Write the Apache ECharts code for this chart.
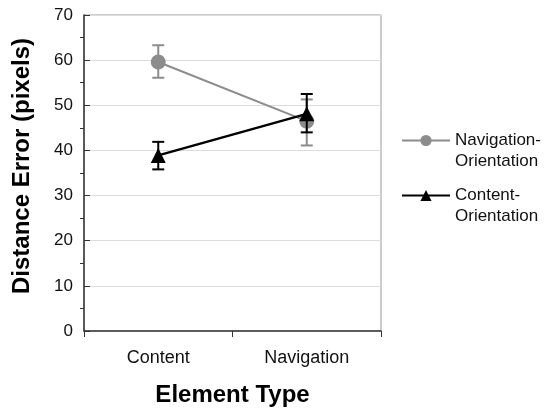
<!DOCTYPE html>
<html>
<head>
<meta charset="utf-8">
<script src="https://cdn.jsdelivr.net/npm/echarts@6/dist/echarts.min.js"></script>
<style>html,body{margin:0;padding:0;background:#fff}#c{width:546px;height:413px}</style>
</head>
<body>
<div id="c"></div>
<script>
var categories = ['Content', 'Navigation'];
var navOrientMean = [59.6, 46.5];
var navOrientLow = [56.1, 41.1];
var navOrientHigh = [63.3, 51.3];
var contOrientMean = [38.9, 48.1];
var contOrientLow = [35.8, 44.0];
var contOrientHigh = [41.9, 52.5];
var yTicks = [0, 10, 20, 30, 40, 50, 60, 70];

var FONT = '"Liberation Sans", Arial, sans-serif';
var GRAY = '#8c8c8c';
var BLACK = '#000000';

function errData(lo, hi) {
  return categories.map(function (c, i) { return [i, lo[i], hi[i]]; });
}
function errSeries(lo, hi, color, z) {
  return {
    type: 'custom',
    z: z,
    silent: true,
    data: errData(lo, hi),
    encode: { x: 0, y: [1, 2] },
    renderItem: function (params, api) {
      var x = api.value(0);
      var a = api.coord([x, api.value(1)]);
      var b = api.coord([x, api.value(2)]);
      var hw = 6;
      var st = { stroke: color, lineWidth: 2 };
      return {
        type: 'group',
        children: [
          { type: 'line', shape: { x1: a[0], y1: a[1], x2: b[0], y2: b[1] }, style: st },
          { type: 'line', shape: { x1: a[0] - hw, y1: a[1], x2: a[0] + hw, y2: a[1] }, style: st },
          { type: 'line', shape: { x1: b[0] - hw, y1: b[1], x2: b[0] + hw, y2: b[1] }, style: st }
        ]
      };
    }
  };
}

var chart = echarts.init(document.getElementById('c'), null, { renderer: 'canvas' });
var legendText = { fontFamily: FONT, fontSize: 17, color: '#111', lineHeight: 21 };
chart.setOption({
  animation: false,
  backgroundColor: '#fff',
  textStyle: { fontFamily: FONT },
  grid: { left: 84, right: 165, top: 15, bottom: 82, show: true, borderColor: '#999', borderWidth: 1 },
  legend: [
    {
      data: ['Navigation-Orientation'], left: 396, top: 104, orient: 'vertical',
      itemWidth: 48, itemHeight: 14, textStyle: legendText,
      formatter: function () { return '\nNavigation-\nOrientation'; }
    },
    {
      data: ['Content-Orientation'], left: 396, top: 159, orient: 'vertical',
      itemWidth: 48, itemHeight: 14, textStyle: legendText,
      formatter: function () { return '\nContent-\nOrientation'; }
    }
  ],
  xAxis: {
    type: 'category',
    data: categories,
    boundaryGap: true,
    name: 'Element Type',
    nameLocation: 'middle',
    nameGap: 52,
    nameTextStyle: { fontFamily: FONT, fontSize: 24, fontWeight: 'bold', color: '#000' },
    axisLine: { lineStyle: { color: '#333', width: 1.5 } },
    axisTick: { show: true, alignWithLabel: false, length: 6, lineStyle: { color: '#333' } },
    axisLabel: { fontFamily: FONT, fontSize: 18, color: '#111', margin: 18 },
    splitLine: { show: false }
  },
  yAxis: {
    type: 'value',
    min: yTicks[0],
    max: yTicks[yTicks.length - 1],
    interval: 10,
    name: 'Distance Error (pixels)',
    nameLocation: 'middle',
    nameGap: 50,
    nameTextStyle: { fontFamily: FONT, fontSize: 24, fontWeight: 'bold', color: '#000', padding: [0, 0, 0, 14] },
    axisLine: { show: true, lineStyle: { color: '#333', width: 1.5 } },
    axisTick: { show: true, inside: true, length: 6, lineStyle: { color: '#333' } },
    minorTick: { show: true, splitNumber: 2, length: -4, lineStyle: { color: '#333' } },
    axisLabel: { fontFamily: FONT, fontSize: 17, color: '#111', margin: 11, inside: false },
    splitLine: { show: true, lineStyle: { color: '#dcdcdc', width: 1 } }
  },
  series: [
    errSeries(navOrientLow, navOrientHigh, GRAY, 2),
    {
      name: 'Navigation-Orientation',
      type: 'line',
      z: 3,
      data: navOrientMean,
      symbol: 'circle',
      symbolSize: 15,
      lineStyle: { color: GRAY, width: 2 },
      itemStyle: { color: GRAY },
      color: GRAY
    },
    errSeries(contOrientLow, contOrientHigh, BLACK, 4),
    {
      name: 'Content-Orientation',
      type: 'line',
      z: 5,
      data: contOrientMean,
      symbol: 'triangle',
      symbolSize: 15,
      lineStyle: { color: BLACK, width: 2.5 },
      itemStyle: { color: BLACK },
      color: BLACK
    }
  ]
});
</script>
</body>
</html>
